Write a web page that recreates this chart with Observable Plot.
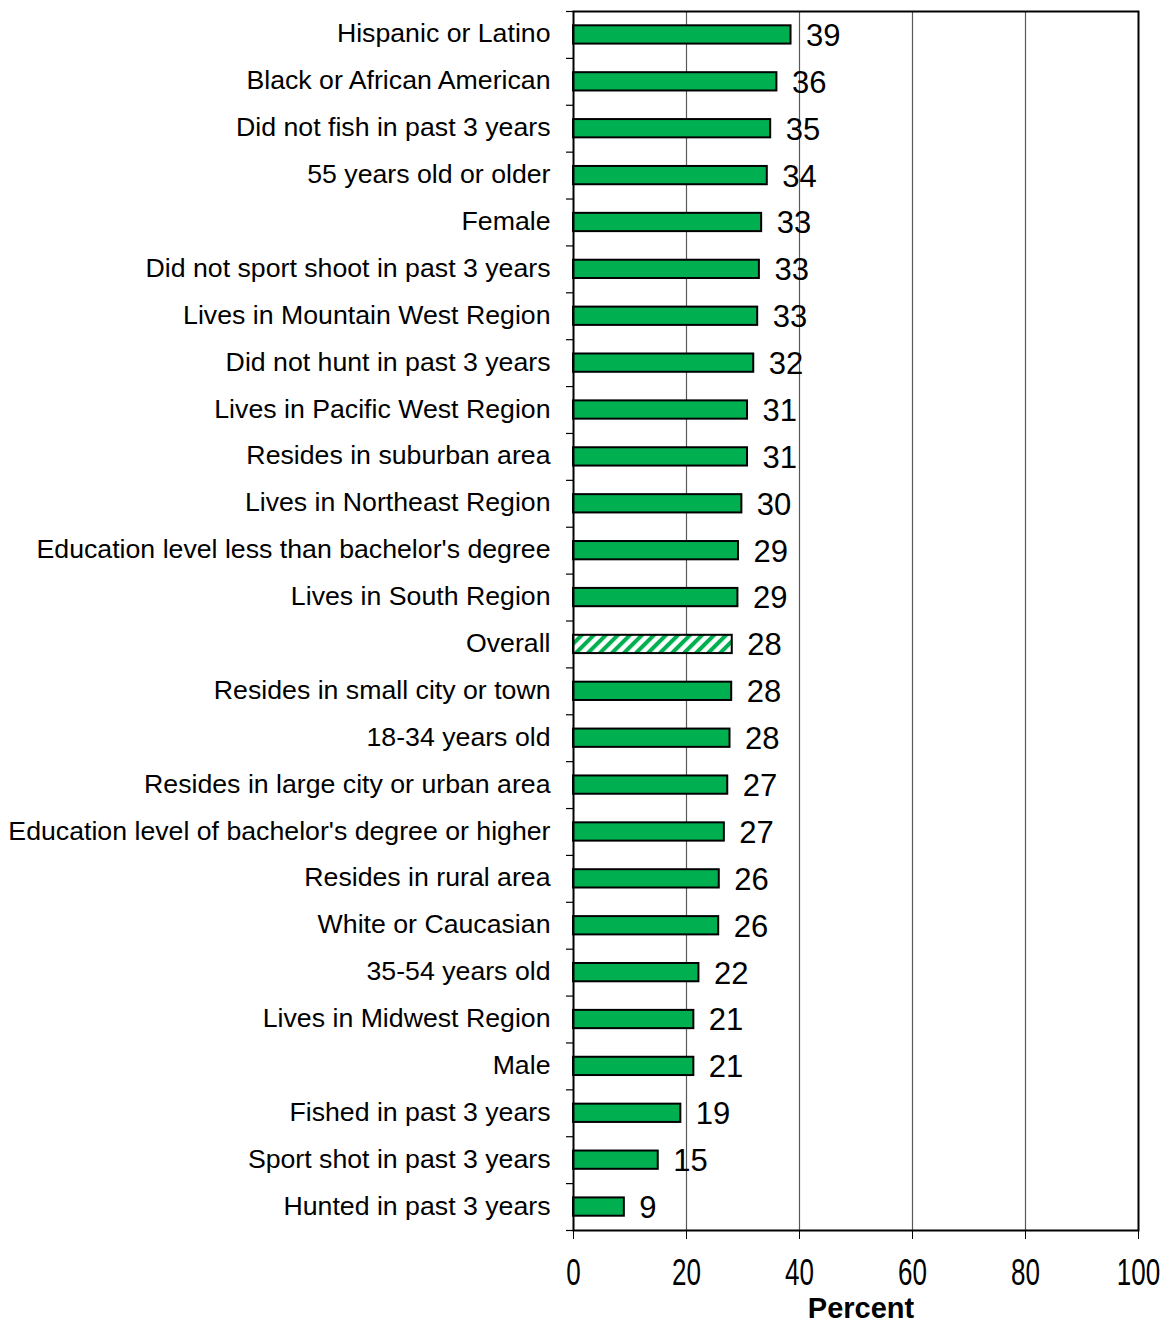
<!DOCTYPE html>
<html><head><meta charset="utf-8">
<script src="https://cdn.jsdelivr.net/npm/d3@7"></script>
<script src="https://cdn.jsdelivr.net/npm/@observablehq/plot@0.6"></script>
<style>body{margin:0;background:#fff} svg{font-family:"Liberation Sans",Arial,sans-serif}</style>
</head><body><div id="chart"></div>
<script>
const categories = [
  "Hispanic or Latino",
  "Black or African American",
  "Did not fish in past 3 years",
  "55 years old or older",
  "Female",
  "Did not sport shoot in past 3 years",
  "Lives in Mountain West Region",
  "Did not hunt in past 3 years",
  "Lives in Pacific West Region",
  "Resides in suburban area",
  "Lives in Northeast Region",
  "Education level less than bachelor's degree",
  "Lives in South Region",
  "Overall",
  "Resides in small city or town",
  "18-34 years old",
  "Resides in large city or urban area",
  "Education level of bachelor's degree or higher",
  "Resides in rural area",
  "White or Caucasian",
  "35-54 years old",
  "Lives in Midwest Region",
  "Male",
  "Fished in past 3 years",
  "Sport shot in past 3 years",
  "Hunted in past 3 years"
];
const values = [38.5, 36.0, 34.9, 34.3, 33.3, 32.9, 32.6, 31.9, 30.8, 30.8, 29.8, 29.2, 29.1, 28.1, 28.0, 27.7, 27.3, 26.7, 25.8, 25.7, 22.2, 21.3, 21.3, 19.0, 15.0, 9.0];
const labels = [39, 36, 35, 34, 33, 33, 33, 32, 31, 31, 30, 29, 29, 28, 28, 28, 27, 27, 26, 26, 22, 21, 21, 19, 15, 9];
const highlight = "Overall";
const xTicks = [0, 20, 40, 60, 80, 100];
const gridTicks = [20, 40, 60, 80];
const axisTitle = "Percent";

const data = categories.map((c, i) => ({category: c, value: values[i], label: labels[i]}));
const W = 1173, H = 1324, mt = 11, mb = 94, ml = 573, mr = 35;
const step = (H - mt - mb) / categories.length;
const pxPerUnit = (W - ml - mr) / 100;
const green = "#00B050";

const plot = Plot.plot({
  width: W, height: H,
  marginTop: mt, marginBottom: mb, marginLeft: ml, marginRight: mr,
  style: {fontFamily: '"Liberation Sans", Arial, sans-serif', background: "white", color: "black"},
  x: {domain: [0, 100]},
  y: {domain: categories, paddingInner: 0.61, paddingOuter: 0.305, round: false},
  color: {type: "identity"},
  marks: [
    Plot.ruleX(gridTicks, {stroke: "#595959", strokeWidth: 1.2}),
    Plot.barX(data, {
      y: "category", x: "value",
      fill: d => d.category === highlight ? "url(#hatch)" : green,
      stroke: "black", strokeWidth: 2
    }),
    Plot.text(data, {y: "category", x: "value", text: "label", dx: 15, dy: 1, textAnchor: "start", fontSize: 31, fill: "black"}),
    Plot.ruleY(categories, {y: d => d, x1: -7 / pxPerUnit, x2: 0, dy: -step / 2, stroke: "black", strokeWidth: 1.2}),
    Plot.ruleY(categories.slice(-1), {y: d => d, x1: -7 / pxPerUnit, x2: 0, dy: step / 2, stroke: "black", strokeWidth: 1.2}),
    Plot.axisY({tickSize: 0, tickPadding: 23, fontSize: 26.7, dy: -1, label: null, fill: "black"}),
    Plot.axisX({ticks: xTicks, tickSize: 9, tickPadding: 20, fontSize: 26, label: null, stroke: "black", fill: "black"}),
    Plot.frame({stroke: "black", strokeWidth: 2}),
    Plot.text([axisTitle], {text: d => d, frameAnchor: "bottom", lineAnchor: "middle", dy: 78, dx: 5, fontSize: 29, fontWeight: "bold", fill: "black"})
  ]
});

const svg = d3.select(plot);
const defs = svg.insert("defs", ":first-child");
const pat = defs.append("pattern").attr("id", "hatch")
  .attr("patternUnits", "userSpaceOnUse").attr("width", 8.5).attr("height", 8.5)
  .attr("patternTransform", "rotate(45)");
pat.append("rect").attr("width", 8.5).attr("height", 8.5).attr("fill", "white");
pat.append("rect").attr("width", 4).attr("height", 8.5).attr("fill", green);

// x tick labels are vertically stretched in the reference
svg.selectAll('g[aria-label="x-axis tick label"] text').each(function() {
  const t = d3.select(this);
  const tr = t.attr("transform");
  if (tr && tr.includes("translate")) {
    t.attr("transform", tr + " scale(1,1.4)");
  } else {
    const x = +t.attr("x") || 0, y = +t.attr("y") || 0;
    t.attr("x", null).attr("y", null).attr("transform", `translate(${x},${y}) scale(1,1.4)`);
  }
});

document.getElementById("chart").appendChild(plot);
</script>
</body></html>
